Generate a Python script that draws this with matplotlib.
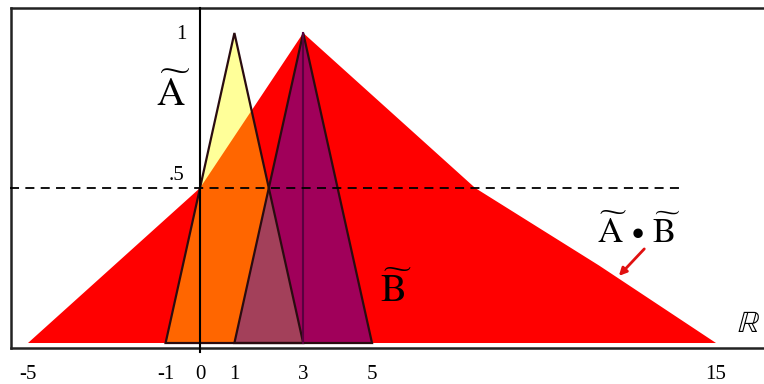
import matplotlib.pyplot as plt
from matplotlib.patches import Polygon

plt.rcParams["mathtext.fontset"] = "stix"
plt.rcParams["font.family"] = ["Liberation Serif", "DejaVu Serif"]

# triangular fuzzy numbers (left, peak, right)
A_tri = [-1, 1, 3]
B_tri = [1, 3, 5]

# alpha cuts of the product A*B
alpha = [0, 0.25, 0.5, 0.75, 1.0]
ab_left = [-5, -2.5, 0, 1.5, 3]
ab_right = [15, 11.6, 8, 5.5, 3]

xticks = [-5, -1, 0, 1, 3, 5, 15]
cut_level = 0.5

RED = "#ff0000"
YELLOW = "#ffff99"
ORANGE = "#ff6600"
PURPLE = "#a0005a"
MAUVE = "#a3405a"
EDGE = "#2a0c10"


def tri_pts(t):
    return [(t[0], 0), (t[1], 1), (t[2], 0)]


fig = plt.figure(figsize=(7.64, 3.84), dpi=100)
ax = fig.add_axes([11 / 764, 36 / 384, 753 / 764, 340 / 384])
ax.set_xlim(-5.494, 16.395)
ax.set_ylim(-0.0161, 1.0806)

# product A*B
ab_pts = list(zip(ab_left, alpha)) + list(zip(ab_right[::-1], alpha[::-1]))
red = Polygon(ab_pts, closed=True, facecolor=RED, edgecolor="none", zorder=1)
ax.add_patch(red)

# A on its own, then the part of A lying inside A*B
ax.add_patch(Polygon(tri_pts(A_tri), facecolor=YELLOW, edgecolor="none", zorder=2))
a_in_red = Polygon(tri_pts(A_tri), facecolor=ORANGE, edgecolor="none", zorder=3)
ax.add_patch(a_in_red)
a_in_red.set_clip_path(red)

# B, then the overlap of A and B
b_patch = Polygon(tri_pts(B_tri), facecolor=PURPLE, edgecolor="none", zorder=4)
ax.add_patch(b_patch)
a_in_b = Polygon(tri_pts(A_tri), facecolor=MAUVE, edgecolor="none", zorder=5)
ax.add_patch(a_in_b)
a_in_b.set_clip_path(b_patch)

# outlines
ax.add_patch(Polygon(tri_pts(A_tri), fill=False, edgecolor=EDGE, lw=1.6, zorder=6))
ax.add_patch(Polygon(tri_pts(B_tri), fill=False, edgecolor=EDGE, lw=1.6, zorder=6))
ax.plot([B_tri[1], B_tri[1]], [0, 1], color="#5a0040", lw=1.5, zorder=6)

# vertical axis through 0
ax.plot([0, 0], [-0.03, 1.0806], color="black", lw=1.5, zorder=7, clip_on=False)

# alpha = .5 cut
ax.plot([-5.52, 13.95], [cut_level, cut_level], color="black", lw=1.3,
        dashes=(5, 3.5), zorder=7, clip_on=False)

# frame
for side in ["left", "top", "bottom"]:
    ax.spines[side].set_linewidth(1.8)
    ax.spines[side].set_color("#222222")
ax.spines["right"].set_visible(False)
ax.set_yticks([])
ax.set_xticks(xticks)
ax.set_xticklabels([str(v) for v in xticks], fontsize=15)
ax.tick_params(axis="x", length=0, pad=12)

ax.text(-0.55, 0.994, "1", fontsize=15, ha="center", va="center")
ax.text(-0.67, 0.539, ".5", fontsize=15, ha="center", va="center")
ax.text(-0.78, 0.80, r"$\widetilde{\mathrm{A}}$", fontsize=28, ha="center", va="center")
ax.text(5.7, 0.165, r"$\widetilde{\mathrm{B}}$", fontsize=28, ha="center", va="center")
ax.text(12.75, 0.355, r"$\widetilde{\mathrm{A}}\,\bullet\,\widetilde{\mathrm{B}}$", fontsize=25,
        ha="center", va="center")
ax.text(15.95, 0.06, r"$\mathbb{R}$", fontsize=22, ha="center", va="center", clip_on=False)

ax.annotate("", xy=(12.12, 0.21), xytext=(12.97, 0.31),
            arrowprops=dict(arrowstyle="-|>", color="#e01010", lw=2, mutation_scale=11))

fig.savefig("out.png", dpi=100)
